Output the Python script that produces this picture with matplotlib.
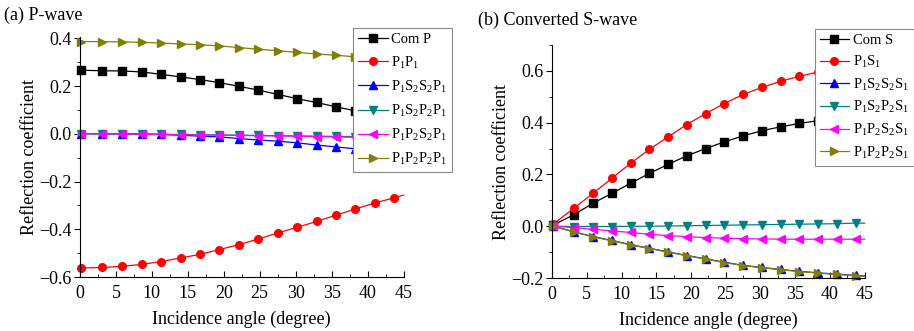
import matplotlib
matplotlib.use("Agg")
import matplotlib.pyplot as plt
from matplotlib.ticker import MultipleLocator

plt.rcParams['font.family'] = ['Liberation Serif', 'DejaVu Serif']
plt.rcParams['mathtext.fontset'] = 'custom'
plt.rcParams['mathtext.rm'] = 'Liberation Serif'
plt.rcParams['mathtext.it'] = 'Liberation Serif'

# ================================
# Data
# ================================
# marker angles, plus the end of each curve at 45 degrees
angles = [0.2, 3.1, 5.9, 8.6, 11.3, 14.0, 16.7, 19.4, 22.1, 24.8,
          27.5, 30.2, 32.9, 35.6, 38.3, 41.0, 43.7, 45.0]

# (a) P-wave
p_labels = ['Com P', r'$\mathrm{P_1P_1}$', r'$\mathrm{P_1S_2S_2P_1}$',
            r'$\mathrm{P_1S_2P_2P_1}$', r'$\mathrm{P_1P_2S_2P_1}$', r'$\mathrm{P_1P_2P_2P_1}$']
com_p = [0.266, 0.264, 0.263, 0.259, 0.249, 0.238, 0.227, 0.214, 0.199, 0.183,
         0.165, 0.147, 0.131, 0.113, 0.096, 0.078, 0.060, 0.052]
p1p1 = [-0.562, -0.560, -0.555, -0.547, -0.535, -0.520, -0.505, -0.485, -0.464, -0.441,
        -0.415, -0.392, -0.367, -0.341, -0.315, -0.290, -0.268, -0.257]
p1s2s2p1 = [0.0, 0.0, 0.0, -0.001, -0.003, -0.006, -0.010, -0.013, -0.020, -0.026,
            -0.031, -0.038, -0.047, -0.055, -0.063, -0.072, -0.080, -0.084]
p1s2p2p1 = [0.0, 0.0, -0.001, -0.001, -0.002, -0.003, -0.004, -0.005, -0.006, -0.007,
            -0.008, -0.009, -0.010, -0.011, -0.012, -0.013, -0.014, -0.015]
p1p2s2p1 = [0.0, 0.0, -0.001, -0.002, -0.003, -0.004, -0.005, -0.006, -0.007, -0.008,
            -0.009, -0.010, -0.012, -0.013, -0.015, -0.017, -0.019, -0.020]
p1p2p2p1 = [0.386, 0.386, 0.385, 0.383, 0.380, 0.376, 0.373, 0.368, 0.361, 0.354,
            0.348, 0.341, 0.334, 0.329, 0.322, 0.313, 0.305, 0.301]

# (b) Converted S-wave
s_labels = ['Com S', r'$\mathrm{P_1S_1}$', r'$\mathrm{P_1S_2S_2S_1}$',
            r'$\mathrm{P_1S_2P_2S_1}$', r'$\mathrm{P_1P_2S_2S_1}$', r'$\mathrm{P_1P_2P_2S_1}$']
com_s = [0.005, 0.044, 0.089, 0.127, 0.166, 0.204, 0.239, 0.272, 0.300, 0.326,
         0.349, 0.369, 0.384, 0.397, 0.408, 0.417, 0.425, 0.428]
p1s1 = [0.009, 0.069, 0.127, 0.185, 0.243, 0.297, 0.345, 0.393, 0.435, 0.474,
        0.509, 0.536, 0.560, 0.579, 0.596, 0.609, 0.619, 0.623]
p1s2s2s1 = [0.0, -0.021, -0.040, -0.055, -0.071, -0.085, -0.099, -0.113, -0.126, -0.139,
            -0.151, -0.159, -0.167, -0.174, -0.180, -0.185, -0.190, -0.192]
p1s2p2s1 = [0.0, -0.001, -0.001, -0.001, 0.0, 0.0, 0.001, 0.002, 0.003, 0.004,
            0.005, 0.006, 0.007, 0.008, 0.009, 0.010, 0.012, 0.012]
p1p2s2s1 = [0.0, -0.005, -0.012, -0.018, -0.024, -0.031, -0.036, -0.040, -0.044, -0.046,
            -0.048, -0.049, -0.050, -0.050, -0.050, -0.050, -0.050, -0.050]
p1p2p2s1 = [0.0, -0.022, -0.041, -0.056, -0.072, -0.086, -0.100, -0.114, -0.127, -0.140,
            -0.152, -0.160, -0.168, -0.175, -0.181, -0.186, -0.191, -0.193]

colors = ['black', 'red', 'blue', '#008080', 'magenta', '#808000']
markers = ['s', 'o', '^', 'v', '<', '>']


def style_axes(ax, ylim):
    ax.set_xlim(0, 45)
    ax.set_ylim(*ylim)
    ax.spines['top'].set_visible(False)
    ax.spines['right'].set_visible(False)
    ax.xaxis.set_major_locator(MultipleLocator(5))
    ax.xaxis.set_minor_locator(MultipleLocator(2.5))
    ax.yaxis.set_major_locator(MultipleLocator(0.2))
    ax.yaxis.set_minor_locator(MultipleLocator(0.1))
    ax.tick_params(axis='x', which='both', direction='in', labelsize=13, pad=6)
    ax.tick_params(axis='y', which='both', direction='out', labelsize=13, pad=2)
    ax.tick_params(which='major', length=4)
    ax.tick_params(which='minor', length=2.5)
    ax.set_xlabel('Incidence angle (degree)', fontsize=13, labelpad=6)
    ax.set_ylabel('Reflection coefficient', fontsize=13, labelpad=1)


def plot_panel(ax, series, labels, legend_anchor, spacing):
    for i in range(len(series)):
        ax.plot(angles, series[i], color=colors[i], marker=markers[i],
                markevery=slice(0, len(angles) - 1),
                markersize=5.5, linewidth=0.9, label=labels[i], clip_on=False)
    leg = ax.legend(loc='upper left', bbox_to_anchor=legend_anchor, fontsize=10.5,
                    frameon=True, fancybox=False, edgecolor='#888888', framealpha=1,
                    handlelength=2.0, handletextpad=0.25, labelspacing=spacing,
                    borderpad=0.35, borderaxespad=0)
    leg.get_frame().set_linewidth(0.8)
    leg.set_zorder(10)


fig = plt.figure(figsize=(9.14, 3.31), dpi=100)

ax1 = fig.add_axes([0.0875, 0.163, 0.354, 0.725])
plot_panel(ax1, [com_p, p1p1, p1s2s2p1, p1s2p2p1, p1p2s2p1, p1p2p2p1], p_labels,
           (0.845, 1.0375), 0.55)
style_axes(ax1, (-0.6, 0.405))
fig.text(0.004, 0.955, '(a) P-wave', fontsize=13, va='center', ha='left')

ax2 = fig.add_axes([0.604, 0.160, 0.342, 0.704])
plot_panel(ax2, [com_s, p1s1, p1s2s2s1, p1s2p2s1, p1p2s2s1, p1p2p2s1], s_labels,
           (0.84, 1.069), 0.45)
style_axes(ax2, (-0.2, 0.7))
fig.text(0.523, 0.94, '(b) Converted S-wave', fontsize=13, va='center', ha='left')

fig.savefig('out.png', dpi=100)
